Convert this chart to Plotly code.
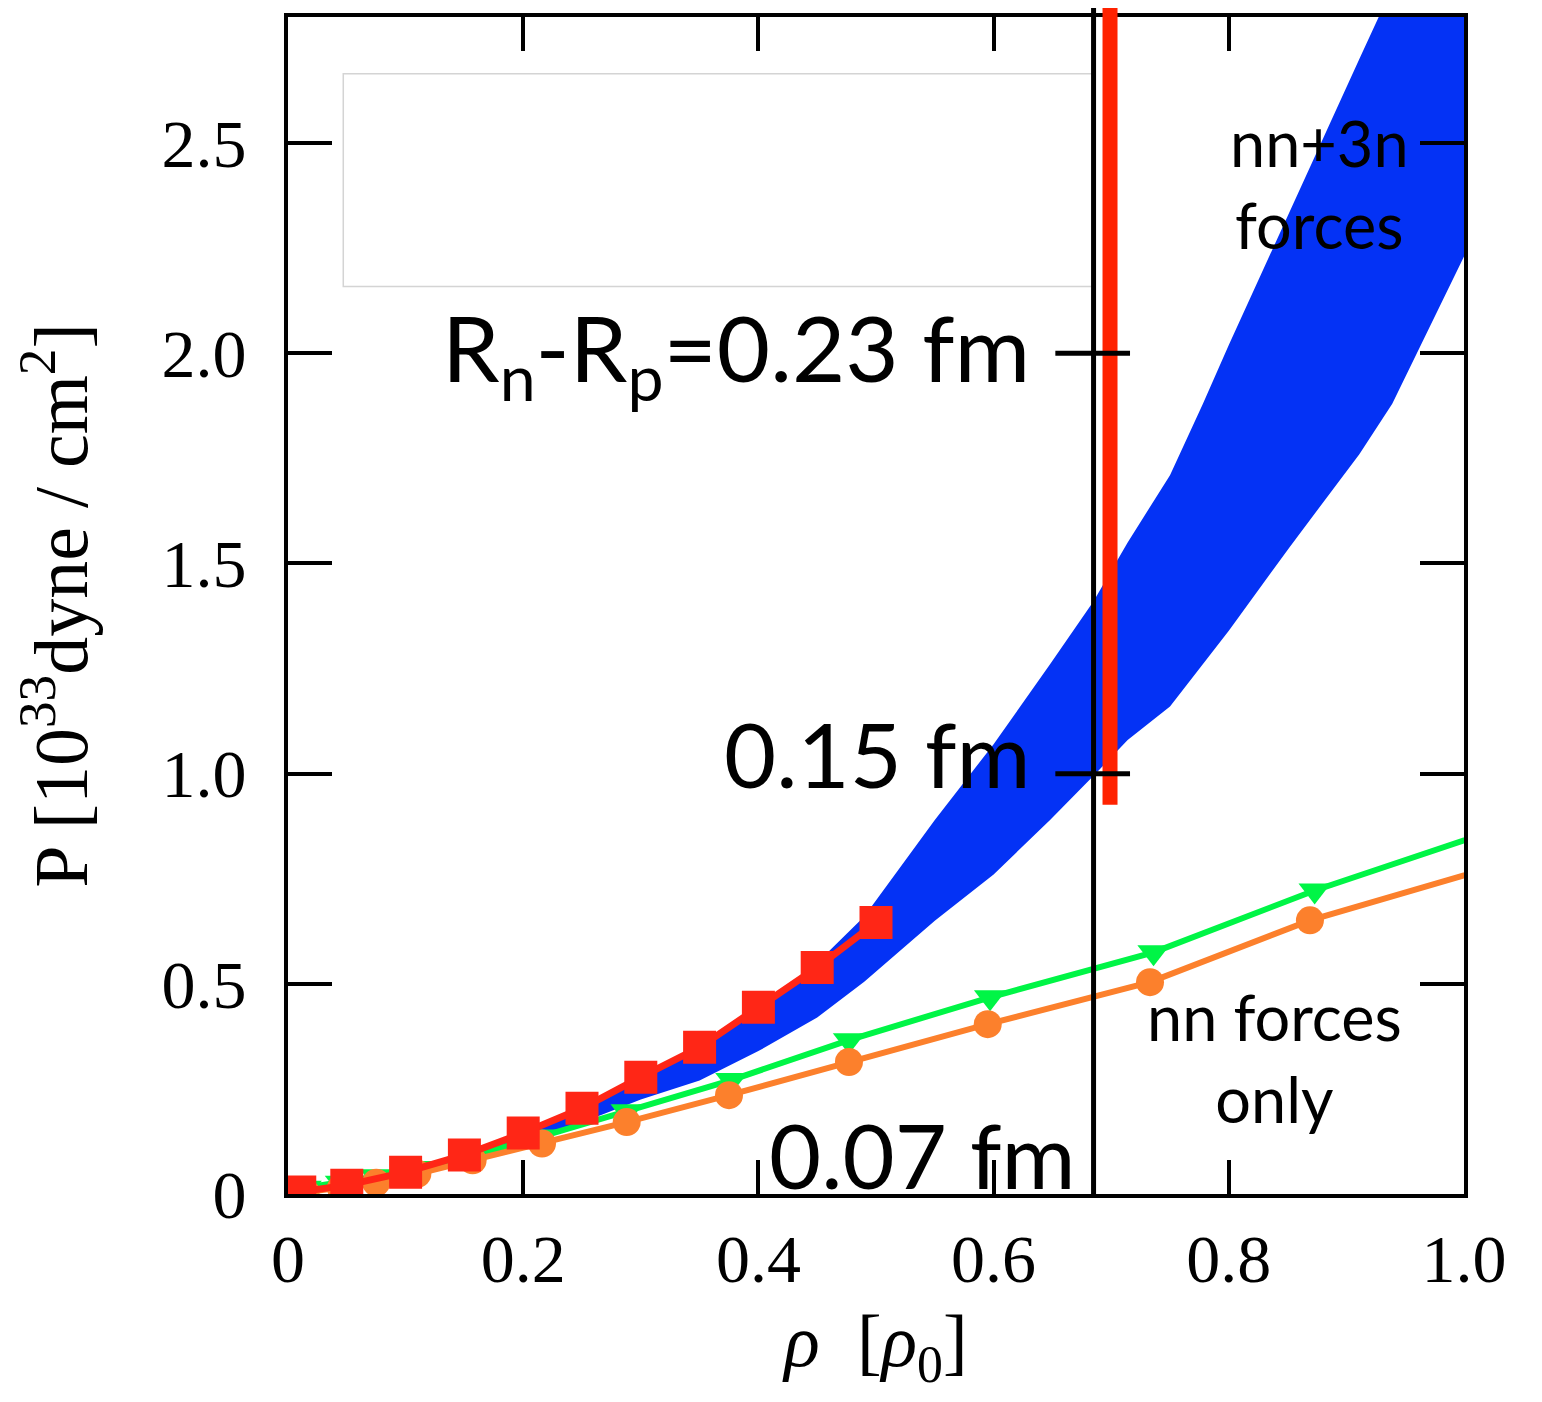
import plotly.graph_objects as go

# ---- data ----
band_x = [0.0, 0.05, 0.1, 0.15, 0.2, 0.25, 0.3, 0.35, 0.4, 0.45, 0.49, 0.55, 0.6, 0.648, 0.685,
          0.714, 0.75, 0.778, 0.8, 0.852, 0.911, 0.939, 1.0]
band_lower = [0.0, 0.015, 0.04, 0.075, 0.12, 0.17, 0.225, 0.27, 0.34, 0.42, 0.505, 0.65, 0.76, 0.89, 0.995,
              1.08, 1.16, 1.26, 1.34, 1.54, 1.76, 1.88, 2.23]
band_upper = [0.0, 0.02, 0.05, 0.09, 0.14, 0.2, 0.27, 0.345, 0.44, 0.55, 0.66, 0.89, 1.07, 1.26, 1.41,
              1.55, 1.71, 1.88, 2.02, 2.34, 2.70, 2.87, 3.3]

red_x = [0.01, 0.05, 0.1, 0.15, 0.2, 0.25, 0.3, 0.35, 0.4, 0.45, 0.5]
red_y = [0.005, 0.021, 0.052, 0.093, 0.145, 0.204, 0.278, 0.349, 0.444, 0.539, 0.646]

green_x = [0.015, 0.045, 0.075, 0.11, 0.157, 0.216, 0.288, 0.377, 0.477, 0.597, 0.736, 0.873, 1.02]
green_y = [0.015, 0.027, 0.042, 0.062, 0.092, 0.137, 0.197, 0.271, 0.366, 0.468, 0.575, 0.722, 0.86]

orange_x = [0.015, 0.045, 0.075, 0.11, 0.157, 0.216, 0.288, 0.375, 0.477, 0.595, 0.733, 0.869, 1.02]
orange_y = [0.004, 0.014, 0.027, 0.048, 0.08, 0.12, 0.171, 0.235, 0.314, 0.404, 0.504, 0.651, 0.774]

x_ticks = [0, 0.2, 0.4, 0.6, 0.8, 1.0]
x_ticklabels = ["0", "0.2", "0.4", "0.6", "0.8", "1.0"]
y_ticks = [0, 0.5, 1.0, 1.5, 2.0, 2.5]
y_ticklabels = ["0", "0.5", "1.0", "1.5", "2.0", "2.5"]

split_x = 0.685        # black vertical line
red_bar_x = 0.699      # red vertical bar
red_bar_top = 0.926
marks_y = [2.0, 1.0]
mark_x = [0.6525, 0.716]
legend_box = [0.047, 0.685, 2.159, 2.665]

BLUE = "rgb(4,50,245)"
RED = "rgb(255,38,22)"
GREEN = "rgb(0,245,70)"
ORANGE = "rgb(252,128,44)"
SANS = "Lato, 'Open Sans', sans-serif"
SERIF = "'Liberation Serif', 'DejaVu Serif', serif"

fig = go.Figure()

# band
fig.add_trace(go.Scatter(x=band_x, y=band_lower, mode="lines", line=dict(width=0, color=BLUE),
                         showlegend=False, hoverinfo="skip"))
fig.add_trace(go.Scatter(x=band_x, y=band_upper, mode="lines", line=dict(width=0, color=BLUE),
                         fill="tonexty", fillcolor=BLUE, showlegend=False, hoverinfo="skip"))

fig.add_trace(go.Scatter(x=green_x, y=green_y, mode="lines+markers",
                         line=dict(color=GREEN, width=6),
                         marker=dict(symbol="triangle-down", size=28, color=GREEN),
                         showlegend=False))
fig.add_trace(go.Scatter(x=orange_x, y=orange_y, mode="lines+markers",
                         line=dict(color=ORANGE, width=6),
                         marker=dict(symbol="circle", size=28, color=ORANGE),
                         showlegend=False))
fig.add_trace(go.Scatter(x=red_x, y=red_y, mode="lines+markers",
                         line=dict(color=RED, width=7),
                         marker=dict(symbol="square", size=33, color=RED),
                         showlegend=False))

shapes = []
# empty legend box
shapes.append(dict(type="rect", xref="x", yref="y", x0=legend_box[0], x1=legend_box[1],
                   y0=legend_box[2], y1=legend_box[3], line=dict(color="#d4d4d4", width=1.5),
                   fillcolor="white", layer="above"))
# black vertical line
shapes.append(dict(type="line", xref="x", yref="paper", x0=split_x, x1=split_x, y0=0, y1=1.02,
                   line=dict(color="black", width=5), layer="above"))
# red vertical bar
shapes.append(dict(type="line", xref="x", yref="paper", x0=red_bar_x, x1=red_bar_x,
                   y0=red_bar_top / 2.8, y1=1.02, line=dict(color="rgb(255,34,0)", width=15), layer="above"))
for my in marks_y:
    shapes.append(dict(type="line", xref="x", yref="y", x0=mark_x[0], x1=mark_x[1], y0=my, y1=my,
                       line=dict(color="black", width=5), layer="above"))

annotations = [
    dict(x=0.633, y=2.0, xref="x", yref="y", text="R<sub>n</sub>-R<sub>p</sub>=0.23 fm",
         xanchor="right", yanchor="middle", showarrow=False, font=dict(family=SANS, size=92, color="black")),
    dict(x=0.633, y=1.05, xref="x", yref="y", text="0.15 fm",
         xanchor="right", yanchor="middle", showarrow=False, font=dict(family=SANS, size=90, color="black")),
    dict(x=0.407, y=0.095, xref="x", yref="y", text="0.07 fm",
         xanchor="left", yanchor="middle", showarrow=False, font=dict(family=SANS, size=90, color="black")),
    dict(x=0.877, y=2.405, xref="x", yref="y", text="nn+3n<br>forces",
         xanchor="center", yanchor="middle", showarrow=False, font=dict(family=SANS, size=63, color="black")),
    dict(x=0.839, y=0.325, xref="x", yref="y", text="nn forces<br>only",
         xanchor="center", yanchor="middle", showarrow=False, font=dict(family=SANS, size=63, color="black")),
]

fig.update_layout(
    width=1542, height=1402,
    margin=dict(l=280, r=86, t=5, b=216),
    paper_bgcolor="white", plot_bgcolor="white",
    shapes=shapes, annotations=annotations,
    showlegend=False,
)
fig.update_xaxes(range=[0, 1], tickvals=x_ticks, ticktext=x_ticklabels,
                 ticks="inside", ticklen=34, tickwidth=4, tickcolor="black",
                 showline=True, linecolor="black", linewidth=4, mirror="ticks",
                 showgrid=False, zeroline=False,
                 tickfont=dict(family=SERIF, size=68, color="black"), ticklabelstandoff=2,
                 title=dict(text="<i>ρ</i>  [<i>ρ</i><sub>0</sub>]", font=dict(family=SERIF, size=74, color="black"),
                            standoff=20))
fig.update_yaxes(range=[0, 2.8], tickvals=y_ticks, ticktext=y_ticklabels,
                 ticks="inside", ticklen=44, tickwidth=4, tickcolor="black",
                 showline=True, linecolor="black", linewidth=4, mirror="ticks",
                 showgrid=False, zeroline=False,
                 tickfont=dict(family=SERIF, size=68, color="black"), ticklabelstandoff=24,
                 title=dict(text="P [10<sup>33</sup>dyne / cm<sup>2</sup>]",
                            font=dict(family=SERIF, size=76, color="black"), standoff=54))

fig.write_html("out.html")
